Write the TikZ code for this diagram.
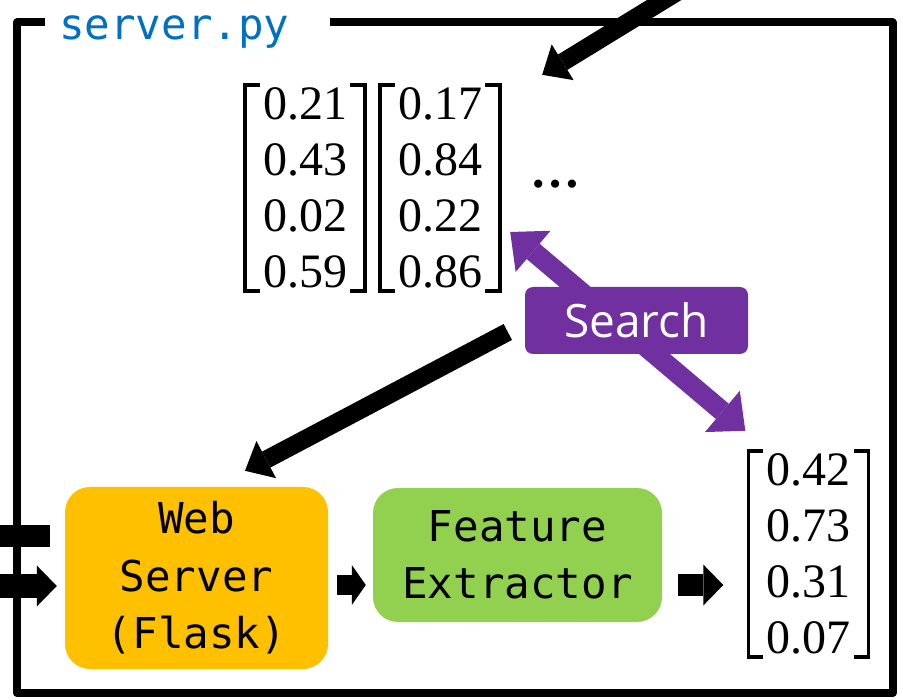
\documentclass[tikz,border=0pt]{standalone}
\usepackage{fontspec}
\usepackage{tikz}
\usetikzlibrary{                          % TikZ libraries
                arrows.meta,              % .
                calc,                     % .
                positioning}
\newfontfamily\monofont{DejaVu Sans Mono}
\newfontfamily\numfont{Liberation Serif}
\newfontfamily\labfont{Open Sans}
\definecolor{pyblue}{HTML}{0070C0}
\definecolor{webyellow}{HTML}{FFC000}
\definecolor{featgreen}{HTML}{92D050}
\definecolor{srchpurple}{HTML}{7030A0}

\begin{document}
\begin{tikzpicture}[x=1pt,y=-1pt
                    ]
                % define styles
\tikzset{vec/.style={inner sep=0,
                       minimum width=120pt,
                       minimum height=206pt,
                       align=center,
                       font={\numfont\fontsize{48}{56}\selectfont},
                       },
         brak/.style={line width=3.5pt,
                       line join=miter,
                       },
         box/.style={rounded corners=25pt,
                       align=center,
                       inner sep=0,
                       font={\monofont\fontsize{42.5}{57.5}\selectfont},
                       },
         fat/.style={line width=18pt,
                       -{Triangle[length=24pt,width=42pt,line width=0pt]},
                       },
         stub/.style={line width=#1,
                       -{Triangle[length=20pt,width=41pt,line width=0pt]},
                       },
         dbl/.style={line width=20pt,
                       draw=srchpurple,
                       {Triangle[length=30pt,width=54pt,line width=0pt]}-{Triangle[length=30pt,width=54pt,line width=0pt]},
                       }
}

\clip (0,0) rectangle (903,700);

% frame of server.py
\draw[line width=8pt,line join=round]
    (45,22.5) -- (17,22.5) -- (17,693) -- (892.5,693) -- (892.5,22.5) -- (330,22.5);
\node[anchor=base west,inner sep=0,text=pyblue,
      font={\monofont\fontsize{42.5}{50}\selectfont}] (title) at (59,39.5) {server.py};

% stored vectors
\node[vec] (v1) at (305,188)   {0.21\\0.43\\0.02\\0.59};
\node[vec] (v2) at (440,188)   {0.17\\0.84\\0.22\\0.86};
\node[vec] (v3) at (808.5,554) {0.42\\0.73\\0.31\\0.07};
\node[inner sep=0,font={\numfont\bfseries\fontsize{50}{56}\selectfont}] (more) at (555,184) {…};

\foreach \v in {v1,v2,v3}
{
    \draw[brak] ([xshift=15pt]\v.north west) -- (\v.north west) -- (\v.south west) -- ([xshift=15pt]\v.south west);
    \draw[brak] ([xshift=-15pt]\v.north east) -- (\v.north east) -- (\v.south east) -- ([xshift=-15pt]\v.south east);
}

% boxes
\node[box,fill=webyellow,minimum width=263pt,minimum height=182pt] (web) at (196.5,578) {Web\\Server\\(Flask)};
\node[box,fill=featgreen,minimum width=289pt,minimum height=134pt] (feat) at (517.5,555) {Feature\\Extractor};

% search
\draw[dbl] ($(v2.east)+(10,44)$) -- ($(v3.north west)+(-3,-20)$);
\node[fill=srchpurple,rounded corners=8pt,minimum width=223pt,minimum height=67pt,inner sep=0,
      text=white,font={\labfont\fontsize{46}{50}\selectfont}] (search) at (636.5,320.5) {Search};

% free ends
\coordinate (upload) at (705,-25);
\coordinate (req)    at (-10,586);
\coordinate (resp)   at (-10,536);

% connectors
\draw[fat] (upload) -- ($(v2.north east)+(42,-10)$);
\draw[fat] ($(search.west)+(-17,11.5)$) -- ($(web.north)+(48.5,-16)$);
\draw[line width=22pt] ($(web.west)+(-15,-42)$) -- (resp);
\draw[stub=24pt] (req) -- ($(web.west)+(-8,8)$);
\draw[line width=20pt,-{Triangle[length=14pt,width=40pt,line width=0pt]}]
    ($(web.east)+(9,7)$) -- ($(feat.west)+(-7,30)$);
\draw[stub=22pt] ($(feat.east)+(16,30)$) -- ($(v3.west)+(-25,31)$);

\end{tikzpicture}
\end{document}
